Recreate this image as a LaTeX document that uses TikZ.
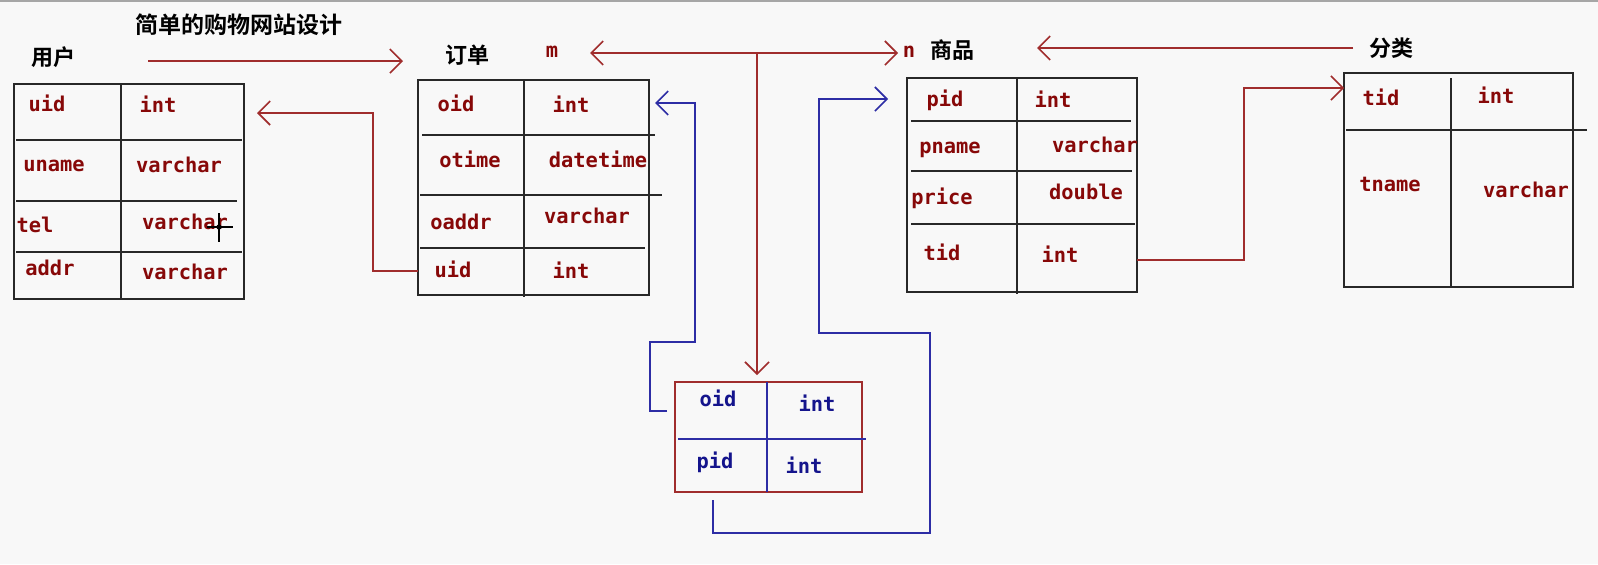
\documentclass[tikz,border=0pt]{standalone}
\usepackage{fontspec}
\usetikzlibrary{arrows.meta,fit}
\newfontfamily\fldfont{DejaVu Sans Mono}
\newfontfamily\cjk{Noto Sans CJK SC}[BoldFont={Noto Sans CJK SC Bold}]
\definecolor{bgc}{RGB}{248,248,248}
\definecolor{txtred}{RGB}{135,8,8}
\definecolor{txtblue}{RGB}{20,20,140}
\definecolor{tblline}{RGB}{40,40,40}
\definecolor{redline}{RGB}{160,45,45}
\definecolor{blueline}{RGB}{45,45,165}
\begin{document}
\begin{tikzpicture}[x=0.5pt,y=-0.5pt,
  fld/.style={font=\fldfont\bfseries\fontsize{10.2}{12}\selectfont, text=txtred, inner sep=0pt, text height=7.2pt, text depth=2pt},
  fldb/.style={fld, text=txtblue},
  cn/.style={font=\cjk\bfseries\fontsize{11}{12}\selectfont, text=black, inner sep=0pt},
  tbl/.style={draw=tblline, line width=1pt, inner sep=0pt},
  gridl/.style={draw=tblline, line width=1pt},
  tip/.style={-{Straight Barb[length=6pt,width=12pt,line width=0.8pt]}},
  rl/.style={draw=redline, line width=0.9pt},
  bl/.style={draw=blueline, line width=0.9pt}
]
\fill[bgc] (0,0) rectangle (1598,564);
\useasboundingbox (0,0) rectangle (1598,564);
\draw[gray!70, line width=0.8pt] (0,1) -- (1598,1);

% titles
\node[cn, font=\cjk\bfseries\fontsize{11.5}{12}\selectfont] (title) at (239,25) {简单的购物网站设计};
\node[cn] (luser) at (53,57) {用户};
\node[cn] (lorder) at (467,55) {订单};
\node[fld] (lm) at (552,52) {m};
\node[fld] (ln) at (909,52) {n};
\node[cn] (lgoods) at (952,50) {商品};
\node[cn] (lcat) at (1391,48) {分类};

% ---- user table
\node[tbl, fit={(14,84)(244,299)}] (user) {};
\draw[gridl] (121,83) -- (121,300);
\draw[gridl] (16,140) -- (242,140);
\draw[gridl] (16,201) -- (237,201);
\draw[gridl] (16,252) -- (242,252);
\node[fld] (u1) at (47,106) {uid};
\node[fld] (u2) at (158,107) {int};
\node[fld] (u3) at (54,166) {uname};
\node[fld] (u4) at (179,167) {varchar};
\node[fld] (u5) at (35,227) {tel};
\node[fld] (u6) at (185,224) {varchar};
\node[fld] (u7) at (50,270) {addr};
\node[fld] (u8) at (185,274) {varchar};
% cursor
\draw[black, line width=0.8pt] (219,213) -- (219,242);
\draw[black, line width=0.8pt] (207,227) -- (233,227);
\draw[black, line width=0.6pt] (219,227) circle[radius=2];

% ---- order table
\node[tbl, fit={(418,80)(649,295)}] (order) {};
\draw[gridl] (524,80) -- (524,297);
\draw[gridl] (422,135) -- (655,135);
\draw[gridl] (420,195) -- (662,195);
\draw[gridl] (420,248) -- (645,248);
\node[fld] (o1) at (456,106) {oid};
\node[fld] (o2) at (571,107) {int};
\node[fld] (o3) at (470,162) {otime};
\node[fld] (o4) at (598,162) {datetime};
\node[fld] (o5) at (461,224) {oaddr};
\node[fld] (o6) at (587,218) {varchar};
\node[fld] (o7) at (453,272) {uid};
\node[fld] (o8) at (571,273) {int};

% ---- goods table
\node[tbl, fit={(907,78)(1137,292)}] (goods) {};
\draw[gridl] (1017,78) -- (1017,294);
\draw[gridl] (911,121) -- (1131,121);
\draw[gridl] (911,171) -- (1132,171);
\draw[gridl] (911,224) -- (1135,224);
\node[fld] (g1) at (945,101) {pid};
\node[fld] (g2) at (1053,102) {int};
\node[fld] (g3) at (950,148) {pname};
\node[fld] (g4) at (1095,147) {varchar};
\node[fld] (g5) at (942,199) {price};
\node[fld] (g6) at (1086,194) {double};
\node[fld] (g7) at (942,255) {tid};
\node[fld] (g8) at (1060,257) {int};

% ---- category table
\node[tbl, fit={(1344,73)(1573,287)}] (cat) {};
\draw[gridl] (1451,78) -- (1451,287);
\draw[gridl] (1346,130) -- (1587,130);
\node[fld] (c1) at (1381,100) {tid};
\node[fld] (c2) at (1496,98) {int};
\node[fld] (c3) at (1390,186) {tname};
\node[fld] (c4) at (1526,192) {varchar};

% ---- junction table
\node[fit={(675,382)(862,492)}, draw=redline, line width=1pt, inner sep=0pt] (junc) {};
\draw[blueline, line width=1pt] (767,382) -- (767,492);
\draw[blueline, line width=1pt] (678,439) -- (866,439);
\node[fldb] (j1) at (718,401) {oid};
\node[fldb] (j2) at (817,406) {int};
\node[fldb] (j3) at (715,463) {pid};
\node[fldb] (j4) at (804,468) {int};

% ---- connectors
\coordinate (a1s) at (148,61);
\coordinate (a1e) at (403,61);
\draw[rl, tip] (a1s) -- (a1e);

\coordinate (tj) at (757,53);
\coordinate (mtip) at (590,53);
\coordinate (ntip) at (898,53);
\coordinate (jtip) at (757,375);
\draw[rl, tip] (tj) -- (mtip);
\draw[rl, tip] (tj) -- (ntip);
\draw[rl, tip] (tj) -- (jtip);

\coordinate (cs) at (1353,48);
\coordinate (ce) at (1037,48);
\draw[rl, tip] (cs) -- (ce);

\coordinate (ous) at (418,271);
\coordinate (uuid) at (257,113);
\draw[rl, tip] (ous) -- (373,271) -- (373,113) -- (uuid);

\coordinate (gts) at (1137,260);
\coordinate (ctid) at (1344,88);
\draw[rl, tip] (gts) -- (1244,260) -- (1244,88) -- (ctid);

\coordinate (jos) at (667,411);
\coordinate (ooid) at (655,103);
\draw[bl, tip] (jos) -- (650,411) -- (650,342) -- (695,342) -- (695,103) -- (ooid);

\coordinate (jps) at (713,500);
\coordinate (gpid) at (888,99);
\draw[bl, tip] (jps) -- (713,533) -- (930,533) -- (930,333) -- (819,333) -- (819,99) -- (gpid);
\end{tikzpicture}
\end{document}
